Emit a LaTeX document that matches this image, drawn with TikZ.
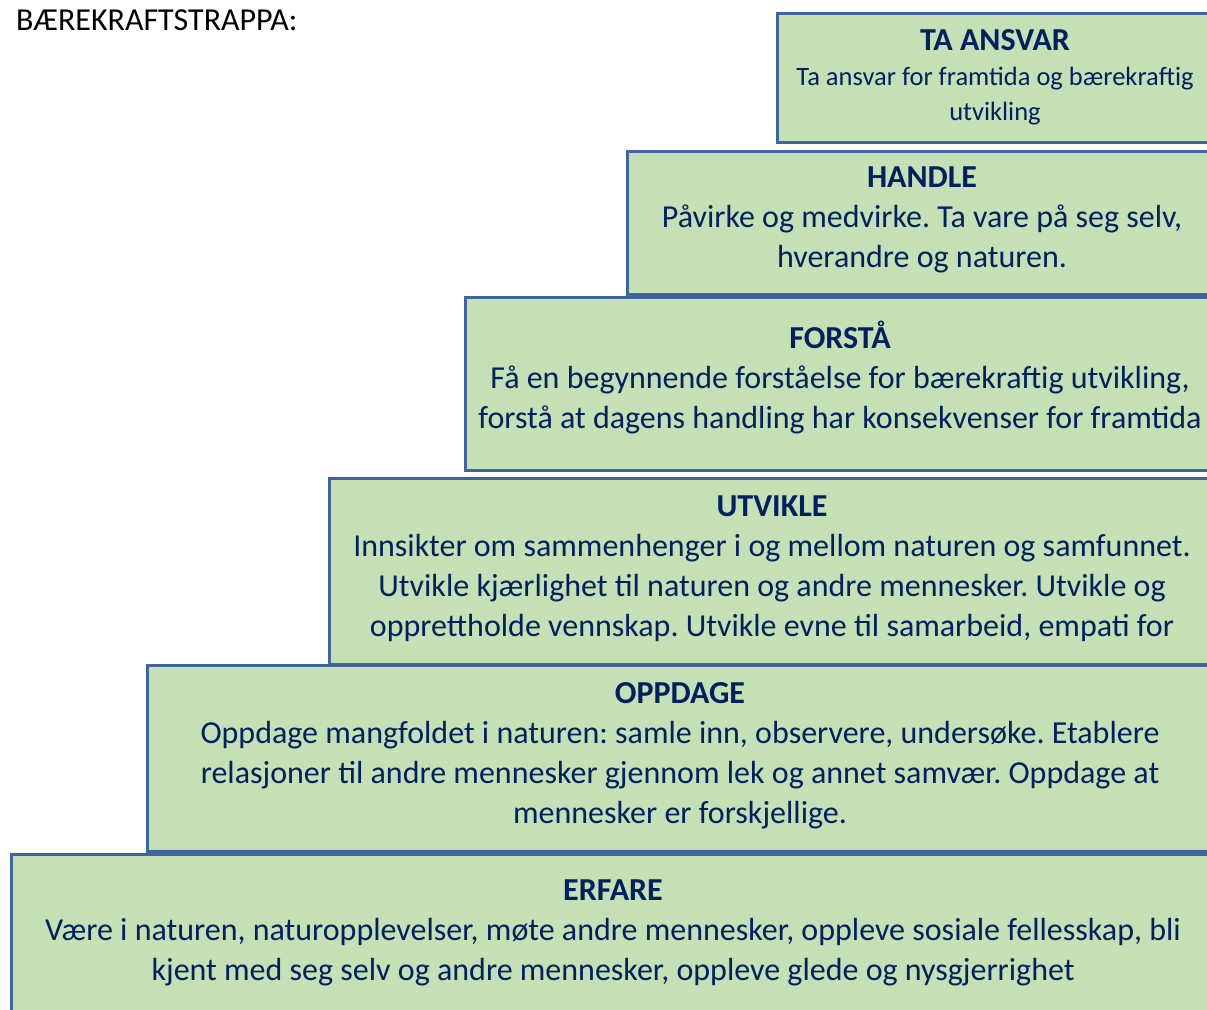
\documentclass[tikz,border=0pt]{standalone}
\usepackage{fontspec}
\setmainfont{Carlito}
\frenchspacing
\definecolor{boxfill}{HTML}{C5E0B4}
\definecolor{boxline}{HTML}{41659F}
\definecolor{navy}{HTML}{002060}
\begin{document}
\begin{tikzpicture}[x=1pt,y=-1pt,
  stairbox/.style={draw=boxline,fill=boxfill,line width=2.5pt,rectangle,inner sep=0pt,anchor=north west},
  stairtext/.style={text=navy,align=center,inner sep=0pt,anchor=north,font=\fontsize{32}{40}\selectfont\frenchspacing},
  smalltext/.style={text=navy,align=center,inner sep=0pt,anchor=north,font=\fontsize{26.5}{35}\selectfont\frenchspacing}]
\useasboundingbox (0,0) rectangle (1207,1009);
\clip (0,0) rectangle (1207,1009);
\node[anchor=base west,inner sep=0pt,font=\fontsize{32}{36}\selectfont] (heading) at (16,30) {BÆREKRAFTSTRAPPA:};
% boxes
\node[stairbox,minimum width=440pt,minimum height=129pt] (ta) at (776,12) {};
\node[stairbox,minimum width=590pt,minimum height=143pt] (handle) at (626,150) {};
\node[stairbox,minimum width=752pt,minimum height=173pt] (forsta) at (464,296) {};
\node[stairbox,minimum width=888pt,minimum height=186pt] (utvikle) at (328,477) {};
\node[stairbox,minimum width=1070pt,minimum height=186pt] (oppdage) at (146,664) {};
\node[stairbox,minimum width=1206pt,minimum height=200pt] (erfare) at (10,853) {};
% texts
\node[stairtext] (tatitle) at (995,22) {\strut\bfseries TA ANSVAR};
\node[smalltext] (tabody) at (995,61) {\strut Ta ansvar for framtida og bærekraftig\\utvikling};
\node[stairtext] (handletext) at (922,159) {\strut\textbf{HANDLE}\\Påvirke og medvirke. Ta vare på seg selv,\\hverandre og naturen.};
\node[stairtext] (forstatext) at (840,320) {\strut\textbf{FORSTÅ}\\Få en begynnende forståelse for bærekraftig utvikling,\\forstå at dagens handling har konsekvenser for framtida};
\node[stairtext] (utvikletext) at (772,488) {\strut\textbf{UTVIKLE}\\Innsikter om sammenhenger i og mellom naturen og samfunnet.\\Utvikle kjærlighet til naturen og andre mennesker. Utvikle og\\opprettholde vennskap. Utvikle evne til samarbeid, empati for};
\node[stairtext] (oppdagetext) at (680,675) {\strut\textbf{OPPDAGE}\\Oppdage mangfoldet i naturen: samle inn, observere, undersøke. Etablere\\relasjoner til andre mennesker gjennom lek og annet samvær. Oppdage at\\mennesker er forskjellige.};
\node[stairtext] (erfaretext) at (613,872) {\strut\textbf{ERFARE}\\Være i naturen, naturopplevelser, møte andre mennesker, oppleve sosiale fellesskap, bli\\kjent med seg selv og andre mennesker, oppleve glede og nysgjerrighet};
\end{tikzpicture}
\end{document}
